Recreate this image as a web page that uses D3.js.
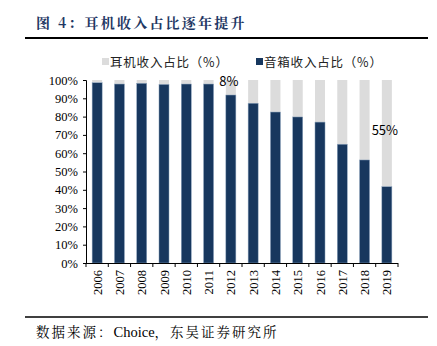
<!DOCTYPE html>
<html>
<head>
<meta charset="utf-8">
<script src="https://cdn.jsdelivr.net/npm/d3@7"></script>
<style>
  html, body { margin: 0; padding: 0; background: #fff; }
  svg { display: block; }
</style>
</head>
<body>
<div id="chart"></div>
<script>
// data
const years = ['2006', '2007', '2008', '2009', '2010', '2011', '2012', '2013', '2014', '2015', '2016', '2017', '2018', '2019'];
const speakerShare = [98.5, 97.8, 98.2, 97.6, 97.8, 97.8, 91.8, 87.3, 82.5, 79.8, 77.0, 64.9, 56.3, 41.7];
const headphoneShare = speakerShare.map(v => 100 - v);
const yTicks = [0, 10, 20, 30, 40, 50, 60, 70, 80, 90, 100];
const seriesNames = ['耳机收入占比（%）', '音箱收入占比（%）'];
const annotations = [{ year: '2012', text: '8%', value: 97 }, { year: '2019', text: '55%', value: 70 }];
const sourceParts = [{ t: '数据来源：', sp: 2 }, { t: 'Choice', sp: 0 }, { t: '，东吴证券研究所', sp: 2 }];

const W = 437, H = 346;
const margin = { top: 80, right: 39, bottom: 83, left: 86 };
const width = W - margin.left - margin.right;
const height = H - margin.top - margin.bottom;

const colDark = '#17375e';
const colLight = '#dcdcdc';
const serif = '"Times New Roman", "Liberation Serif", "Noto Serif CJK SC", serif';
const sans = '"Noto Sans CJK SC", "Noto Sans", sans-serif';

const svg = d3.select('#chart').append('svg').attr('width', W).attr('height', H);

// Title
svg.append('text')
  .attr('x', 36).attr('y', 28)
  .attr('font-family', '"Noto Serif CJK SC", "Noto Sans CJK SC", serif')
  .attr('font-size', 14).attr('font-weight', 'bold')
  .attr('letter-spacing', 2.2)
  .attr('fill', '#1f3864')
  .text('图 4：耳机收入占比逐年提升');
svg.append('line')
  .attr('x1', 25).attr('x2', 428).attr('y1', 38).attr('y2', 38)
  .attr('stroke', '#000').attr('stroke-width', 2);

// Footer
svg.append('line')
  .attr('x1', 25).attr('x2', 428).attr('y1', 317).attr('y2', 317)
  .attr('stroke', '#000').attr('stroke-width', 1.5);
svg.append('text')
  .attr('x', 36).attr('y', 337)
  .attr('font-family', serif).attr('font-size', 13.5)
  .attr('fill', '#000')
  .selectAll('tspan').data(sourceParts).enter().append('tspan')
  .attr('letter-spacing', d => d.sp)
  .attr('font-size', d => d.sp ? 13.5 : 14.5)
  .text(d => d.t);

// Scales
const x = d3.scaleBand().domain(years).range([0, width]).paddingInner(0.55).paddingOuter(0.275);
const y = d3.scaleLinear().domain([0, 100]).range([height, 0]);

const chart = svg.append('g').attr('transform', 'translate(' + margin.left + ',' + margin.top + ')');

// Bars
const bars = chart.selectAll('g.bar').data(years).enter().append('g').attr('class', 'bar');
bars.append('rect')
  .attr('x', d => x(d))
  .attr('width', x.bandwidth())
  .attr('y', y(100))
  .attr('height', (d, i) => y(speakerShare[i]) - y(100))
  .attr('fill', colLight);
bars.append('rect')
  .attr('x', d => x(d))
  .attr('width', x.bandwidth())
  .attr('y', (d, i) => y(speakerShare[i]))
  .attr('height', (d, i) => height - y(speakerShare[i]))
  .attr('fill', colDark)
  .attr('stroke', '#8fa6bf').attr('stroke-width', 0.5);

// Y axis
const yAxis = chart.append('g')
  .call(d3.axisLeft(y).tickValues(yTicks).tickSize(3).tickFormat(d => d + '%'));
yAxis.selectAll('path, line').attr('stroke', '#000').attr('stroke-width', 1);
yAxis.select('.domain').attr('d', 'M-3,0.5H0.5V' + (height + 0.5));
yAxis.selectAll('text')
  .attr('font-family', serif).attr('font-size', 12.5).attr('fill', '#000').attr('x', -8);

// X axis with ticks between categories
const xg = chart.append('g').attr('transform', 'translate(0,' + height + ')');
xg.append('line').attr('x1', 0).attr('x2', width).attr('y1', 0.5).attr('y2', 0.5).attr('stroke', '#000');
const step = x.step();
const boundaries = d3.range(years.length + 1).map(i => x(years[0]) - x.step() * x.paddingOuter() + i * step);
xg.selectAll('line.tick').data(boundaries).enter().append('line')
  .attr('class', 'tick')
  .attr('x1', d => d).attr('x2', d => d)
  .attr('y1', 0).attr('y2', 4)
  .attr('stroke', '#000');
xg.selectAll('text').data(years).enter().append('text')
  .attr('transform', d => 'translate(' + (x(d) + x.bandwidth() / 2 + 4.5) + ',' + 7 + ') rotate(-90)')
  .attr('text-anchor', 'end')
  .attr('font-family', serif).attr('font-size', 12.5).attr('fill', '#000')
  .text(d => d);

// Annotations
chart.selectAll('text.anno').data(annotations).enter().append('text')
  .attr('class', 'anno')
  .attr('x', d => x(d.year) + x.bandwidth() / 2 - 2)
  .attr('y', d => y(d.value))
  .attr('text-anchor', 'middle')
  .attr('font-family', sans).attr('font-size', 13).attr('fill', '#000')
  .text(d => d.text);

// Legend
const legendData = [{ name: seriesNames[0], color: colLight, x: 102 }, { name: seriesNames[1], color: colDark, x: 256 }];
const legend = svg.selectAll('g.legend').data(legendData).enter().append('g')
  .attr('class', 'legend')
  .attr('transform', d => 'translate(' + d.x + ',62)');
legend.append('rect').attr('x', 0).attr('y', -4).attr('width', 7).attr('height', 7).attr('fill', d => d.color);
legend.append('text')
  .attr('x', 8).attr('y', 4.5)
  .attr('font-family', sans).attr('font-size', 12.5).attr('fill', '#222')
  .attr('letter-spacing', 0.8)
  .text(d => d.name);
</script>
</body>
</html>
